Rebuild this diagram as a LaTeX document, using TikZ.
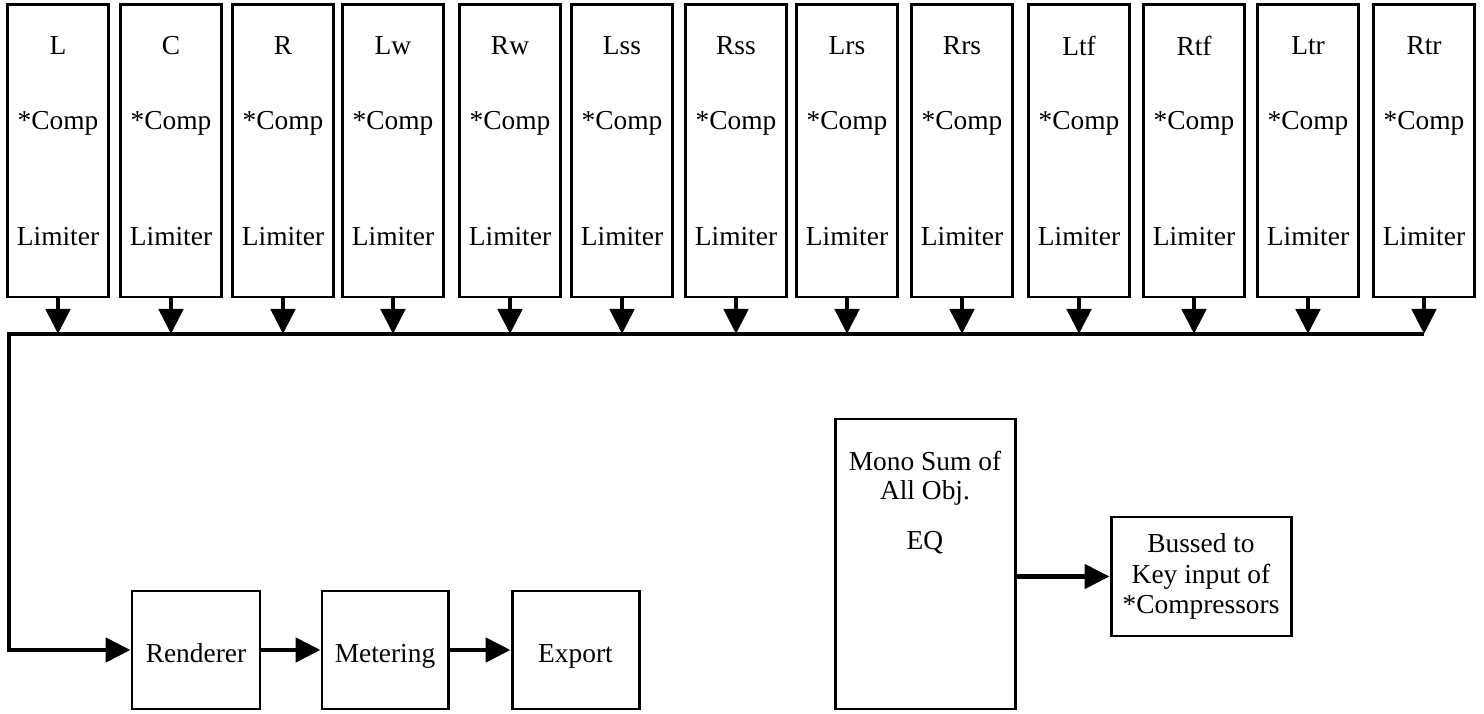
\documentclass[tikz,border=0pt]{standalone}
\usepackage{fontspec}
\setmainfont{Liberation Serif}
\usepackage{tikz}
\usetikzlibrary{arrows.meta, positioning, calc}

\begin{document}
\begin{tikzpicture}[x=1cm, y=1cm,
  font=\fontsize{7.8}{8.6}\selectfont,
  chan/.style={draw, line width=0.85pt, minimum width=1.01cm, minimum height=2.92cm, inner sep=0pt},
  blk/.style={draw, line width=0.85pt, inner sep=0pt, align=center},
  stage/.style={blk, minimum height=1.18cm, text height=0.26cm, text depth=0.02cm},
  flow/.style={line width=1.4pt, -{Triangle[length=0.25cm, width=0.24cm]}}]

  \useasboundingbox (0,0) rectangle (14.84,7.13);

  %% ── Channel strips: name, comp, limiter ─────────────────────────────
  \foreach \x/\n in {0.58/L, 1.71/C, 2.83/R, 3.93/Lw, 5.10/Rw, 6.22/Lss,
                     7.36/Rss, 8.47/Lrs, 9.62/Rrs, 10.79/Ltf, 11.94/Rtf,
                     13.08/Ltr, 14.24/Rtr} {
    \node[chan] (\n) at (\x,5.62) {};
    \node (\n-name) at ([yshift=-0.42cm]\n.north) {\n};
    \node (\n-comp) at ([yshift=-1.20cm]\n.north) {*Comp};
    \node (\n-lim)  at ([yshift=-2.33cm]\n.north) {Limiter};
  }

  %% Bus
  \coordinate (busL) at (0.09,3.79);
  \coordinate (busR) at (Rtr.south |- busL);
  \foreach \n in {L, C, R, Lw, Rw, Lss, Rss, Lrs, Rrs, Ltf, Rtf, Ltr, Rtr} {
    \draw[flow] (\n.south) -- (\n.south |- busL);
  }

  %% ── Output chain ─────────────────────────────────────────────────────
  \node[stage, minimum width=1.28cm] (ren) at (1.96,0.63) {Renderer};
  \node[stage, minimum width=1.26cm] (met) at (3.85,0.63) {Metering};
  \node[stage, minimum width=1.27cm] (exp) at (5.755,0.63) {Export};

  \draw[flow] (busR) -- (busL) |- (ren.west);
  \draw[flow] (ren) -- (met);
  \draw[flow] (met) -- (exp);

  %% ── Key input side chain ─────────────────────────────────────────────
  \node[blk, minimum width=1.80cm, minimum height=2.90cm] (mono) at (9.25,1.49) {};
  \node[align=center, anchor=north, font=\fontsize{7.8}{8.3}\selectfont] (mono-txt)
    at ([yshift=-0.21cm]mono.north) {Mono Sum of\\All Obj.\\[0.21cm]EQ};
  \node[blk, minimum width=1.80cm, minimum height=1.19cm] (key) at (12.01,1.365)
    {Bussed to\\Key input of\\*Compressors};

  \draw[flow] (mono.east |- key.west) -- (key.west);

\end{tikzpicture}
\end{document}
